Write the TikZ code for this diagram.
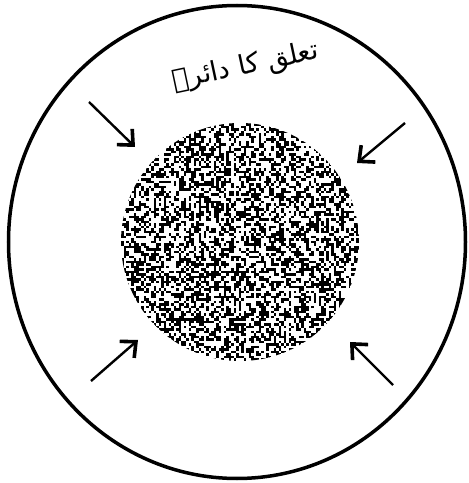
\documentclass[tikz,border=0pt]{standalone}
\usepackage{fontspec}
\newfontfamily\arabicfont[Script=Arabic]{DejaVu Sans}
\TeXXeTstate=1
\usetikzlibrary{arrows.meta,shapes.geometric}
\tikzset{
  ring/.style={draw=black, line width=3.5pt, ellipse},
  inarrow/.style={line width=2.4pt, -{Straight Barb[length=12pt,width=22pt,line width=3.6pt]}},
  label/.style={font=\arabicfont\fontsize{27}{30}\selectfont, inner sep=0pt}
}
\begin{document}
\begin{tikzpicture}[x=1pt,y=1pt]
\useasboundingbox[fill=white] (0,0) rectangle (469,483);
\node[ring, minimum width=457pt, minimum height=473pt, inner sep=0pt] (outer) at (237,241) {};
\node[circle, minimum size=238pt, inner sep=0pt] (inner) at (240,241) {};
\begin{scope}
  \clip (inner.center) circle (119pt);
  \pgfmathsetseed{7}
  \foreach \i in {0,...,95}{
    \foreach \j in {0,...,95}{
      \pgfmathtruncatemacro\r{100*rnd}
      \ifnum\r<46
        \fill[black] (121+2.5*\i,122+2.5*\j) rectangle ++(2.6,2.6);
      \fi
    }
  }
\end{scope}
\node[label, rotate=12] (title) at (246,416) {\beginR تعلق کا دائرہ\endR};
\coordinate (a1) at (89,381);  \coordinate (b1) at (135,336);
\coordinate (a2) at (405,360); \coordinate (b2) at (357,320);
\coordinate (a3) at (91,102);  \coordinate (b3) at (138,143);
\coordinate (a4) at (393,98);  \coordinate (b4) at (350,141);
\draw[inarrow] (a1) -- (b1);
\draw[inarrow] (a2) -- (b2);
\draw[inarrow] (a3) -- (b3);
\draw[inarrow] (a4) -- (b4);
\end{tikzpicture}
\end{document}
